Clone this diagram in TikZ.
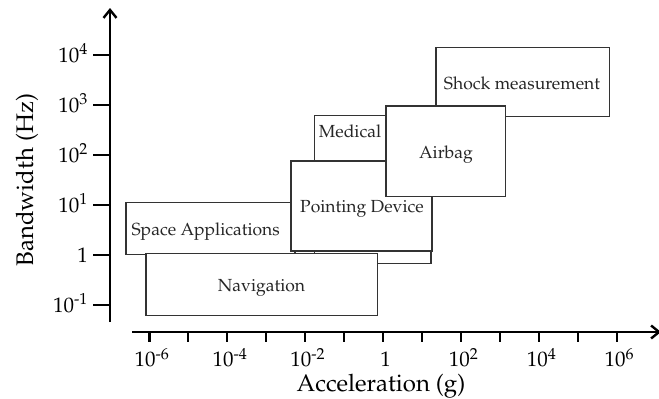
\documentclass[tikz,border=0pt]{standalone}
\usepackage[T1]{fontenc}
\usepackage{mathpazo}
\usetikzlibrary{arrows.meta}
\tikzset{
  appbox/.style={draw=black!80, line width=1.2pt, fill=white, inner sep=0pt},
  boxtext/.style={font=\fontsize{17.5}{20}\selectfont, inner sep=0pt, text=black!85, anchor=base},
  ticklab/.style={font=\fontsize{21}{24}\selectfont, inner sep=0pt},
  axislab/.style={font=\fontsize{24}{28}\selectfont, inner sep=0pt},
  axisline/.style={line width=2.4pt},
  axisarrow/.style={-{Straight Barb[length=8pt,width=13pt]}},
}
\begin{document}
\begin{tikzpicture}[x=1pt,y=-1pt]
\useasboundingbox (0,0) rectangle (659,399);
% boxes (back to front)
\node[appbox, minimum width=116.7pt, minimum height=147.6pt] (medical) at (372.65,189.5) {};
\node[boxtext] (medicalt) at (350,137.3) {Medical};
\node[appbox, minimum width=169pt, minimum height=51.6pt] (space) at (210.5,228.5) {};
\node[boxtext] (spacet) at (205.7,235) {Space Applications};
\node[appbox, minimum width=231.7pt, minimum height=61.8pt] (nav) at (261.85,284.4) {};
\node[boxtext] (navt) at (261.5,291.7) {Navigation};
\node[appbox, minimum width=141pt, minimum height=90pt] (point) at (361.5,206) {};
\node[boxtext] (pointt) at (362,212.7) {Pointing Device};
\node[appbox, minimum width=173.3pt, minimum height=69pt] (shock) at (522.65,82.2) {};
\node[boxtext] (shockt) at (522,89) {Shock measurement};
\node[appbox, minimum width=119.7pt, minimum height=90.7pt] (airbag) at (445.85,151.35) {};
\node[boxtext] (airbagt) at (446,158.3) {Airbag};
% axes
\coordinate (yb) at (110,322);
\coordinate (yt) at (110,8);
\draw[axisline, axisarrow] (yb) -- (yt);
\coordinate (xl) at (132,332);
\coordinate (xr) at (661,332);
\draw[axisline, axisarrow] (xl) -- (xr);
% y ticks
\foreach \k/\lab in {0/10\textsuperscript{4},1/10\textsuperscript{3},2/10\textsuperscript{2},3/10\textsuperscript{1},4/1,5/10\textsuperscript{-1}} {
  \draw[axisline] (93,55+50*\k) -- (110,55+50*\k);
  \node[ticklab, anchor=base east] (yl\k) at (88,62.5+50*\k) {\lab};
}
% x ticks
\foreach \k in {0,...,12} {
  \draw[axisline] (149.3+38.95*\k,332) -- (149.3+38.95*\k,342);
}
\foreach \k/\lab in {0/10\textsuperscript{-6},2/10\textsuperscript{-4},4/10\textsuperscript{-2},6/1,8/10\textsuperscript{2},10/10\textsuperscript{4},12/10\textsuperscript{6}} {
  \node[ticklab, anchor=base] (xlab\k) at (152+38.95*\k,366.7) {\lab};
}
\node[axislab, anchor=base] (xtitle) at (381,391.7) {Acceleration (g)};
\node[axislab, rotate=90, anchor=base] (ytitle) at (33,180) {Bandwidth (Hz)};
\end{tikzpicture}
\end{document}
